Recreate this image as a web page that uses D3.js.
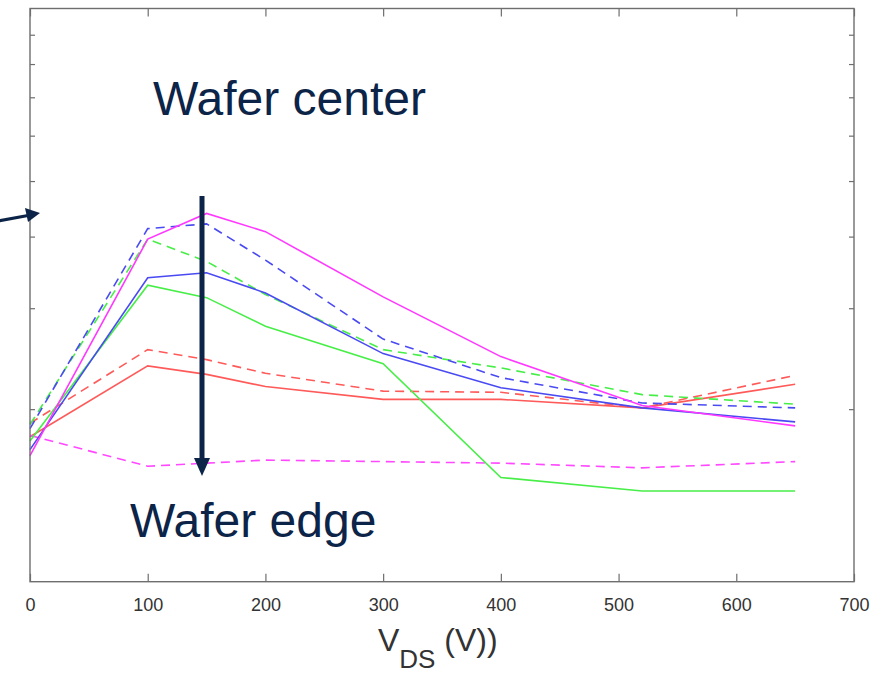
<!DOCTYPE html>
<html><head><meta charset="utf-8">
<script src="https://cdn.jsdelivr.net/npm/d3@7"></script>
<style>
html,body{margin:0;padding:0;background:#fff;}
svg{display:block;font-family:"Liberation Sans",Arial,sans-serif;}
</style></head>
<body>
<svg id="c" width="884" height="679"></svg>
<script>
// ---- data ----
const vds = [0, 100, 150, 200, 300, 400, 520, 650];
const xTicks = [0, 100, 200, 300, 400, 500, 600, 700];
const yMinorTicks = [2, 3, 4, 5, 6, 7, 8, 9];
const magentaSolid  = [1.66, 3.96, 4.39, 4.08, 3.14, 2.47, 2.03, 1.87];
const blueDashed    = [1.85, 4.13, 4.21, 3.64, 2.65, 2.27, 2.05, 2.01];
const greenDashed   = [1.88, 3.96, 3.62, 3.17, 2.54, 2.36, 2.12, 2.04];
const blueSolid     = [1.70, 3.39, 3.46, 3.19, 2.50, 2.18, 2.01, 1.90];
const greenSolid    = [1.76, 3.29, 3.13, 2.79, 2.40, 1.52, 1.44, 1.44];
const redDashed     = [1.89, 2.54, 2.44, 2.31, 2.15, 2.14, 2.01, 2.29];
const redSolid      = [1.79, 2.38, 2.30, 2.19, 2.08, 2.08, 2.01, 2.21];
const magentaDashed = [1.80, 1.59, 1.61, 1.63, 1.62, 1.61, 1.58, 1.62];

const series = [
  {v: redSolid, color: "#ff5a5a", dash: null},
  {v: redDashed, color: "#ff5a5a", dash: "9,6"},
  {v: magentaDashed, color: "#ff48ff", dash: "9,6"},
  {v: greenSolid, color: "#48ee48", dash: null},
  {v: greenDashed, color: "#48ee48", dash: "9,6"},
  {v: blueSolid, color: "#4a4af2", dash: null},
  {v: blueDashed, color: "#4a4af2", dash: "9,6"},
  {v: magentaSolid, color: "#ff38ff", dash: null}
];

const svg = d3.select("#c");
const L = 30, R = 854, T = 8.5, B = 581.7;
const x = d3.scaleLinear().domain([0, 700]).range([L, R]);
const y = d3.scaleLog().domain([1, 10]).range([B, T]);

const axisColor = "#6e6e6e";

// series lines
const line = d3.line().x((d, i) => x(vds[i])).y(d => y(d));
svg.append("g").selectAll("path").data(series).join("path")
  .attr("d", d => line(d.v))
  .attr("fill", "none")
  .attr("stroke", d => d.color)
  .attr("stroke-width", 1.6)
  .attr("stroke-dasharray", d => d.dash);

// axes
function styleAxis(g) {
  g.select(".domain").remove();
  g.selectAll(".tick line").attr("stroke", axisColor).attr("stroke-width", 1.2);
  g.selectAll(".tick text").attr("fill", "#333").attr("font-size", 18)
    .attr("font-family", "'Liberation Sans', Arial, sans-serif");
}
svg.append("g").attr("transform", `translate(0,${B})`)
  .call(d3.axisBottom(x).tickValues(xTicks).tickSize(-8).tickPadding(17).tickFormat(d3.format("d")))
  .call(styleAxis);
svg.append("g").attr("transform", `translate(0,${T})`)
  .call(d3.axisTop(x).tickValues(xTicks).tickSize(-8).tickFormat(""))
  .call(styleAxis);
svg.append("g").attr("transform", `translate(${L},0)`)
  .call(d3.axisLeft(y).tickValues(yMinorTicks).tickSize(-5).tickFormat(""))
  .call(styleAxis);
svg.append("g").attr("transform", `translate(${R},0)`)
  .call(d3.axisRight(y).tickValues(yMinorTicks).tickSize(-5).tickFormat(""))
  .call(styleAxis);

// box
svg.append("rect").attr("x", L).attr("y", T).attr("width", R - L).attr("height", B - T)
  .attr("fill", "none").attr("stroke", axisColor).attr("stroke-width", 1.4);

// x label
const xl = svg.append("text").attr("x", 378).attr("y", 651)
  .attr("fill", "#333").attr("font-size", 32);
xl.append("tspan").text("V");
xl.append("tspan").attr("font-size", 26).attr("dy", 17).text("DS");
xl.append("tspan").attr("dy", -17).text(" (V))");

// annotations
const navy = "#0c2447";
svg.append("text").attr("x", 153).attr("y", 115).attr("font-size", 48).attr("fill", navy).text("Wafer center");
svg.append("text").attr("x", 130).attr("y", 537).attr("font-size", 48).attr("fill", navy).text("Wafer edge");

// vertical arrow
const ax = 202;
svg.append("line").attr("x1", ax).attr("y1", 196).attr("x2", ax).attr("y2", 462)
  .attr("stroke", navy).attr("stroke-width", 5);
svg.append("path").attr("d", `M${ax-8},458 L${ax+8},458 L${ax},476 Z`).attr("fill", navy);

// small left arrow
svg.append("line").attr("x1", -2).attr("y1", 221).attr("x2", 28).attr("y2", 215.5)
  .attr("stroke", navy).attr("stroke-width", 3);
svg.append("path").attr("d", "M25,208 L40,213 L28,222 Z").attr("fill", navy);
</script>
</body></html>
